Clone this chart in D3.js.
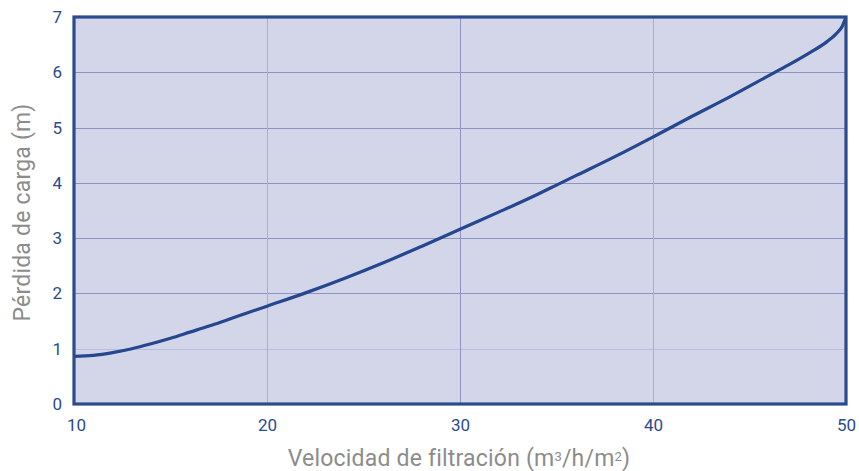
<!DOCTYPE html>
<html>
<head>
<meta charset="utf-8">
<script src="https://cdn.jsdelivr.net/npm/d3@7"></script>
<style>
  html, body { margin: 0; padding: 0; background: #ffffff; }
  svg { display: block; }
</style>
</head>
<body>
<svg id="chart" width="859" height="471"></svg>
<script>
// Filtration velocity (m3/h/m2) vs. head loss (m)
const velocity = [10, 11, 12, 13, 14, 15, 16, 17, 18, 19, 20, 22, 24, 26, 28, 30, 32, 34, 35, 36, 38, 40, 42, 44, 46, 47, 48, 49, 49.5, 49.8, 50];
const headLoss = [0.86, 0.88, 0.93, 1.00, 1.09, 1.19, 1.30, 1.41, 1.53, 1.65, 1.77, 2.01, 2.27, 2.55, 2.85, 3.16, 3.47, 3.79, 3.96, 4.13, 4.47, 4.83, 5.20, 5.56, 5.94, 6.13, 6.33, 6.55, 6.70, 6.83, 7.00];
const xTicks = [10, 20, 30, 40, 50];
const yTicks = [0, 1, 2, 3, 4, 5, 6, 7];
const xTitleParts = [
  { text: "Velocidad de filtración (m", sup: false },
  { text: "3", sup: true },
  { text: "/h/m", sup: false },
  { text: "2", sup: true },
  { text: ")", sup: false }
];
const yTitle = "Pérdida de carga (m)";

const svg = d3.select("#chart");
const plotLeft = 74, plotRight = 846, plotTop = 17, plotBottom = 404;

const x = d3.scaleLinear().domain([10, 50]).range([plotLeft, plotRight]);
const y = d3.scaleLinear().domain([0, 7]).range([plotBottom, plotTop]);

const blue = "#2a4b8d";
const grey = "#8c8c8c";
const font = "Roboto, 'Open Sans', sans-serif";

// plot background
svg.append("rect")
  .attr("x", plotLeft).attr("y", plotTop)
  .attr("width", plotRight - plotLeft).attr("height", plotBottom - plotTop)
  .attr("fill", "#d3d6e9");

// grid lines
svg.append("g").selectAll("line")
  .data(yTicks.filter(d => d > 0 && d < 7))
  .join("line")
  .attr("x1", plotLeft).attr("x2", plotRight)
  .attr("y1", d => Math.round(y(d)) + 0.5).attr("y2", d => Math.round(y(d)) + 0.5)
  .attr("stroke", d => d === 1 ? "#b8bce0" : "#8d94c3")
  .attr("stroke-width", 1);

svg.append("g").selectAll("line")
  .data(xTicks.filter(d => d > 10 && d < 50))
  .join("line")
  .attr("y1", plotTop).attr("y2", plotBottom)
  .attr("x1", d => Math.round(x(d)) + 0.5).attr("x2", d => Math.round(x(d)) + 0.5)
  .attr("stroke", d => d === 30 ? "#8d94c3" : "#a9aed8")
  .attr("stroke-width", 1);

// curve
const line = d3.line()
  .x((d, i) => x(velocity[i]))
  .y(d => y(d))
  .curve(d3.curveMonotoneX);

svg.append("clipPath").attr("id", "plotClip")
  .append("rect")
  .attr("x", plotLeft).attr("y", plotTop)
  .attr("width", plotRight - plotLeft).attr("height", plotBottom - plotTop);

svg.append("path")
  .datum(headLoss)
  .attr("d", line)
  .attr("fill", "none")
  .attr("stroke", "#24478f")
  .attr("stroke-width", 3.2)
  .attr("stroke-linejoin", "round")
  .attr("clip-path", "url(#plotClip)");

// frame
svg.append("rect")
  .attr("x", plotLeft).attr("y", plotTop)
  .attr("width", plotRight - plotLeft).attr("height", plotBottom - plotTop)
  .attr("fill", "none")
  .attr("stroke", blue)
  .attr("stroke-width", 3.2);

// axes (labels only, frame drawn above)
const xAxis = d3.axisBottom(x).tickValues(xTicks).tickSize(0).tickPadding(0).tickFormat(d3.format("d"));
const gx = svg.append("g").attr("transform", `translate(0,${plotBottom})`).call(xAxis);
gx.select(".domain").remove();
gx.selectAll("text")
  .attr("dy", null)
  .attr("y", 27)
  .attr("dx", d => d === 10 ? 2 : 0)
  .attr("fill", blue)
  .style("font-family", font)
  .style("font-size", "17px");

const yAxis = d3.axisLeft(y).tickValues(yTicks).tickSize(0).tickPadding(12).tickFormat(d3.format("d"));
const gy = svg.append("g").attr("transform", `translate(${plotLeft},0)`).call(yAxis);
gy.select(".domain").remove();
gy.selectAll("text")
  .attr("fill", blue)
  .style("font-family", font)
  .style("font-size", "17px");

// axis titles
const xTitle = svg.append("text")
  .attr("x", 459)
  .attr("y", 466)
  .attr("text-anchor", "middle")
  .attr("fill", grey)
  .style("font-family", font)
  .style("font-size", "23px")
  .style("letter-spacing", "0.2px");

xTitle.selectAll("tspan")
  .data(xTitleParts)
  .join("tspan")
  .attr("baseline-shift", d => d.sup ? "38%" : null)
  .style("font-size", d => d.sup ? "13px" : null)
  .text(d => d.text);

svg.append("text")
  .attr("transform", `translate(30,${(plotTop + plotBottom) / 2 + 2}) rotate(-90)`)
  .attr("text-anchor", "middle")
  .attr("fill", grey)
  .style("font-family", font)
  .style("font-size", "23px")
  .style("letter-spacing", "0.2px")
  .text(yTitle);
</script>
</body>
</html>
